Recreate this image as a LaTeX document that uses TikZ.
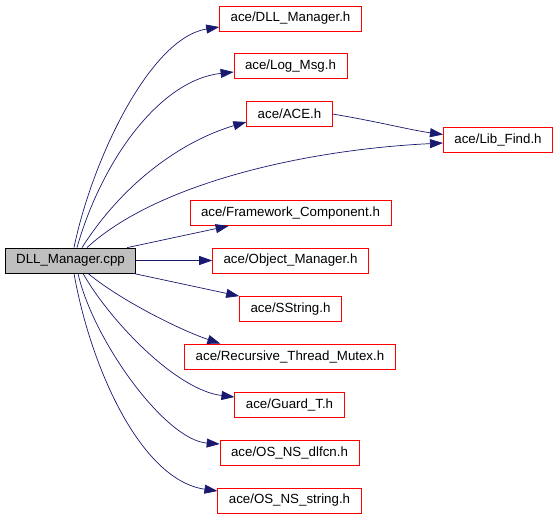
\documentclass[tikz,border=0pt]{standalone}
\usepackage{fontspec}
\setmainfont{Liberation Sans}
\usetikzlibrary{arrows.meta}
\definecolor{edgeblue}{RGB}{25,25,112}
\begin{document}
\begin{tikzpicture}[x=1pt, y=-1pt,
	file/.style={draw=red, line width=0.8pt, minimum height=25pt, inner xsep=11pt, font=\fontsize{13.3}{16}\selectfont},
	srcfile/.style={file, draw=black, fill=lightgray},
	dep/.style={draw=edgeblue, line width=0.7pt, -{Triangle[length=13pt, width=9pt]}}]
	\useasboundingbox (0,0) rectangle (557,517);
	\node[srcfile] (src) at (70.5,260.5) {DLL\_Manager.cpp};
	\node[file] (dllmgr) at (290.5,18.5) {ace/DLL\_Manager.h};
	\node[file] (logmsg) at (290.5,66) {ace/Log\_Msg.h};
	\node[file] (ace) at (289.5,114) {ace/ACE.h};
	\node[file] (libfind) at (498,139.5) {ace/Lib\_Find.h};
	\node[file] (fwcomp) at (290.5,213) {ace/Framework\_Component.h};
	\node[file] (objmgr) at (290.5,260.5) {ace/Object\_Manager.h};
	\node[file] (sstring) at (290.5,309) {ace/SString.h};
	\node[file] (rtmutex) at (290,356.5) {ace/Recursive\_Thread\_Mutex.h};
	\node[file] (guardt) at (289.5,405) {ace/Guard\_T.h};
	\node[file] (dlfcn) at (289.5,452.5) {ace/OS\_NS\_dlfcn.h};
	\node[file] (osstring) at (289.5,500.5) {ace/OS\_NS\_string.h};
	\draw[dep] ([xshift=3.5pt]src.north) .. controls (92,160) and (150,38) .. ([yshift=-8.5pt]dllmgr.west);
	\draw[dep] ([xshift=6.5pt]src.north) .. controls (102,160) and (160,80) .. ([yshift=-6pt]logmsg.west);
	\draw[dep] ([xshift=11.5pt]src.north) .. controls (125,180) and (185,140) .. ([yshift=-8pt]ace.west);
	\draw[dep] ([xshift=16.5pt]src.north) .. controls (155,185) and (300,150) .. ([yshift=-3.5pt]libfind.west);
	\draw[dep] (ace.east) .. controls (380,122) and (410,130) .. ([yshift=5pt]libfind.west);
	\draw[dep] ([xshift=-9pt]src.north east) -- ([xshift=39pt]fwcomp.south west);
	\draw[dep] (src.east) -- (objmgr.west);
	\draw[dep] ([xshift=-3pt]src.south east) -- (sstring.north west);
	\draw[dep] ([xshift=17.5pt]src.south) .. controls (120,300) and (180,330) .. ([xshift=36pt]rtmutex.north west);
	\draw[dep] ([xshift=12.5pt]src.south) .. controls (108,318) and (175,390) .. ([yshift=8pt]guardt.west);
	\draw[dep] ([xshift=7.5pt]src.south) .. controls (93,340) and (165,440) .. ([yshift=8.5pt]dlfcn.west);
	\draw[dep] ([xshift=3.5pt]src.south) .. controls (90,365) and (140,480) .. ([yshift=9.5pt]osstring.west);
\end{tikzpicture}
\end{document}
